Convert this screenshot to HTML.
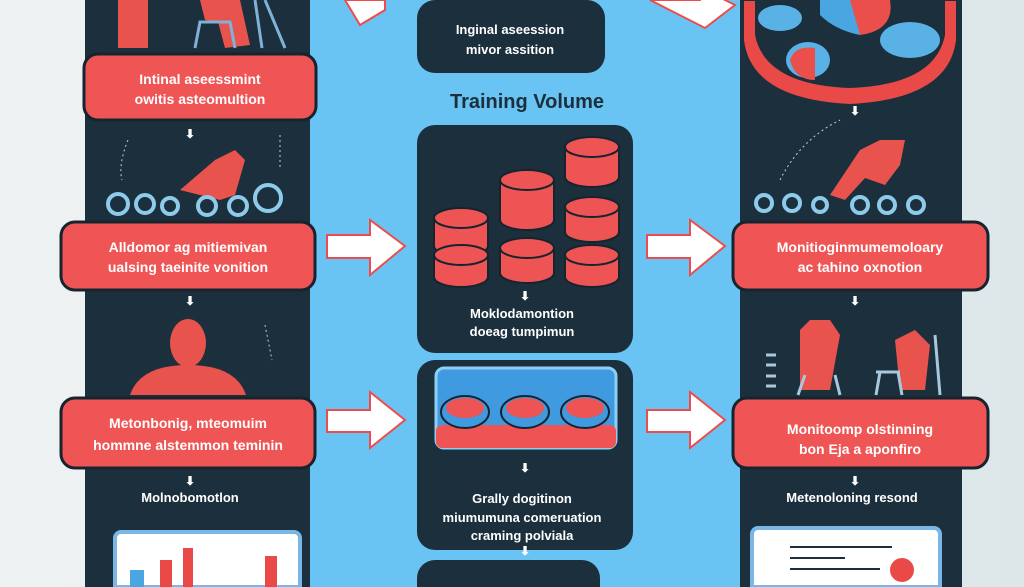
<!DOCTYPE html>
<html><head><meta charset="utf-8"><style>
body{margin:0;width:1024px;height:587px;overflow:hidden;background:#e6edf0;font-family:"Liberation Sans",sans-serif}
svg{position:absolute;left:0;top:0}
text{font-family:"Liberation Sans",sans-serif;font-weight:bold}
</style></head><body>
<svg width="1024" height="587" viewBox="0 0 1024 587">
<defs>
<linearGradient id="bg" x1="0" x2="1"><stop offset="0" stop-color="#eef2f3"/><stop offset="1" stop-color="#dde7ea"/></linearGradient>
</defs>
<rect width="1024" height="587" fill="url(#bg)"/>
<rect x="310" y="0" width="430" height="587" fill="#6ac4f3"/>
<rect x="85" y="0" width="225" height="587" fill="#1b2f3d"/>
<rect x="740" y="0" width="222" height="587" fill="#1b2f3d"/>
<rect x="417" y="0" width="188" height="73" rx="18" fill="#1b2f3d"/>
<rect x="417" y="125" width="216" height="228" rx="18" fill="#1b2f3d"/>
<rect x="417" y="360" width="216" height="190" rx="18" fill="#1b2f3d"/>
<path d="M417 587 V578 a18 18 0 0 1 18 -18 H582 a18 18 0 0 1 18 18 V587Z" fill="#1b2f3d"/>
<text x="510" y="34" fill="#fff" font-size="13" text-anchor="middle" font-weight="normal">Inginal aseession</text>
<text x="510" y="54" fill="#fff" font-size="13" text-anchor="middle" font-weight="normal">mivor assition</text>
<text x="527" y="108" fill="#1b2f3d" font-size="20" text-anchor="middle">Training Volume</text>
<path d="M385 0 L345 0 L360 25 L385 10Z" fill="#fff" stroke="#ee4c4c" stroke-width="2"/>
<path d="M650 0 L700 0 L705 -10 L735 5 L705 28Z" fill="#fff" stroke="#ee4c4c" stroke-width="2"/>
<g fill="#fff" stroke="#ee4c4c" stroke-width="2">
<path d="M327 235 L370 235 L370 220 L405 246 L370 275 L370 258 L327 258Z"/>
<path d="M647 235 L690 235 L690 220 L725 246 L690 275 L690 258 L647 258Z"/>
<path d="M327 410 L370 410 L370 392 L405 420 L370 448 L370 432 L327 432Z"/>
<path d="M647 410 L690 410 L690 392 L725 420 L690 448 L690 432 L647 432Z"/>
</g>
<g stroke="#162430" stroke-width="3" fill="#f05555">
<rect x="84" y="54" width="232" height="66" rx="14"/>
<rect x="61" y="222" width="254" height="68" rx="14"/>
<rect x="61" y="398" width="254" height="70" rx="14"/>
<rect x="733" y="222" width="255" height="68" rx="14"/>
<rect x="733" y="398" width="255" height="70" rx="14"/>
</g>
<g fill="#fff" font-size="14" text-anchor="middle">
<text x="200" y="84">Intinal aseessmint</text>
<text x="200" y="104">owitis asteomultion</text>
<text x="188" y="252">Alldomor ag mitiemivan</text>
<text x="188" y="272">ualsing taeinite vonition</text>
<text x="188" y="428">Metonbonig, mteomuim</text>
<text x="188" y="450">hommne alstemmon teminin</text>
<text x="860" y="252">Monitioginmumemoloary</text>
<text x="860" y="272">ac tahino oxnotion</text>
<text x="860" y="434">Monitoomp olstinning</text>
<text x="860" y="454">bon Eja a aponfiro</text>
</g>
<g fill="#fff" font-size="13" text-anchor="middle">
<text x="190" y="502">Molnobomotlon</text>
<text x="522" y="318">Moklodamontion</text>
<text x="522" y="336">doeag tumpimun</text>
<text x="522" y="503">Grally dogitinon</text>
<text x="522" y="522">miumumuna comeruation</text>
<text x="522" y="540">craming polviala</text>
<text x="852" y="502">Metenoloning resond</text>
</g>
<g fill="#fff" font-size="12" text-anchor="middle">
<text x="190" y="138">⬇</text><text x="190" y="305">⬇</text><text x="190" y="485">⬇</text>
<text x="525" y="300">⬇</text><text x="525" y="472">⬇</text><text x="525" y="555">⬇</text>
<text x="855" y="305">⬇</text><text x="855" y="485">⬇</text><text x="855" y="115">⬇</text>
</g>
<g fill="#e8534e">
<rect x="118" y="0" width="30" height="48"/>
<path d="M200 0 L240 0 L250 45 L225 48 L218 22 L205 20Z"/>
<path d="M180 190 L215 160 L235 150 L245 160 L235 195 L220 200 L200 195Z"/>
<ellipse cx="188" cy="343" rx="18" ry="24"/>
<path d="M130 395 Q140 365 188 365 Q236 365 246 395Z"/>
</g>
<g stroke="#7fb2d6" stroke-width="3" fill="none">
<path d="M195 48 L200 22 L230 22 L235 48"/><path d="M265 0 L285 48 M255 0 L262 48"/>
</g>
<g stroke="#8ecbea" stroke-width="4" fill="#1b2f3d">
<circle cx="118" cy="204" r="10"/><circle cx="145" cy="204" r="9"/><circle cx="170" cy="206" r="8"/><circle cx="207" cy="206" r="9"/><circle cx="238" cy="206" r="9"/><circle cx="268" cy="198" r="13"/>
<circle cx="764" cy="203" r="8"/><circle cx="792" cy="203" r="8"/><circle cx="820" cy="205" r="7"/><circle cx="860" cy="205" r="8"/><circle cx="887" cy="205" r="8"/><circle cx="916" cy="205" r="8"/>
</g>
<path d="M128 140 Q118 165 122 180 M280 135 L280 170 M265 325 L272 360" stroke="#ccc" stroke-dasharray="2 3" fill="none"/>
<path d="M780 180 Q800 140 840 120" stroke="#ccc" stroke-dasharray="2 3" fill="none"/>
<path d="M743 0 L957 0 L957 40 Q950 100 850 105 Q750 100 743 40Z" fill="#e94a48" stroke="#1b2f3d" stroke-width="2"/>
<path d="M755 0 L945 0 L945 35 Q935 85 850 88 Q765 85 755 35Z" fill="#1b2f3d"/>
<ellipse cx="780" cy="18" rx="22" ry="13" fill="#5ab1e6"/>
<ellipse cx="910" cy="40" rx="30" ry="18" fill="#5ab1e6"/>
<path d="M820 0 L870 0 L860 35 Q835 30 820 15Z" fill="#4aa6e0"/>
<path d="M850 0 L890 0 Q895 30 860 35Z" fill="#ea4f4c"/>
<ellipse cx="808" cy="60" rx="22" ry="18" fill="#5ab1e6"/>
<path d="M790 60 Q795 45 815 48 L815 80 Q795 80 790 60Z" fill="#ea4f4c"/>
<path d="M830 195 L860 150 L880 140 L905 140 L900 165 L885 185 L865 178 L845 200Z" fill="#e8534e"/>
<path d="M800 330 L810 320 L830 320 L840 335 L830 390 L800 390Z" fill="#e8534e"/>
<path d="M895 340 L915 330 L930 345 L925 390 L900 390Z" fill="#e8534e"/>
<g stroke="#a8c8de" stroke-width="3"><path d="M876 372 L900 372 M880 372 L876 395 M898 372 L902 395 M935 335 L940 395 M805 375 L798 395 M835 375 L840 395"/>
<path d="M766 355 L776 355 M766 365 L776 365 M766 376 L776 376 M766 386 L776 386"/></g>
<g fill="#ed5453" stroke="#162430" stroke-width="2">
<path d="M434 218 v28 a27 10 0 0 0 54 0 v-28"/><ellipse cx="461" cy="218" rx="27" ry="10"/>
<path d="M434 255 v22 a27 10 0 0 0 54 0 v-22"/><ellipse cx="461" cy="255" rx="27" ry="10"/>
<path d="M500 180 v40 a27 10 0 0 0 54 0 v-40"/><ellipse cx="527" cy="180" rx="27" ry="10"/>
<path d="M500 248 v25 a27 10 0 0 0 54 0 v-25"/><ellipse cx="527" cy="248" rx="27" ry="10"/>
<path d="M565 147 v30 a27 10 0 0 0 54 0 v-30"/><ellipse cx="592" cy="147" rx="27" ry="10"/>
<path d="M565 207 v25 a27 10 0 0 0 54 0 v-25"/><ellipse cx="592" cy="207" rx="27" ry="10"/>
<path d="M565 255 v22 a27 10 0 0 0 54 0 v-22"/><ellipse cx="592" cy="255" rx="27" ry="10"/>
</g>
<rect x="436" y="368" width="180" height="80" rx="8" fill="#3f9ae0" stroke="#8ed0f5" stroke-width="3"/>
<rect x="436" y="425" width="180" height="23" rx="6" fill="#ed5453"/>
<g fill="#3f9ae0" stroke="#162430" stroke-width="2">
<ellipse cx="465" cy="412" rx="24" ry="16"/><ellipse cx="525" cy="412" rx="24" ry="16"/><ellipse cx="585" cy="412" rx="24" ry="16"/></g>
<g fill="#ed5453"><ellipse cx="465" cy="408" rx="19" ry="10"/><ellipse cx="525" cy="408" rx="19" ry="10"/><ellipse cx="585" cy="408" rx="19" ry="10"/></g>
<path d="M115 587 V538 a6 6 0 0 1 6 -6 H294 a6 6 0 0 1 6 6 V587Z" fill="#fff" stroke="#7ab7e6" stroke-width="4"/>
<rect x="130" y="570" width="14" height="17" fill="#4aa6e0"/><rect x="160" y="560" width="12" height="27" fill="#e94a48"/><rect x="183" y="548" width="10" height="39" fill="#e94a48"/><rect x="265" y="556" width="12" height="31" fill="#e94a48"/>
<path d="M752 587 V534 a6 6 0 0 1 6 -6 H934 a6 6 0 0 1 6 6 V587Z" fill="#fff" stroke="#7ab7e6" stroke-width="4"/>
<path d="M790 547 L892 547 M790 558 L845 558 M790 569 L880 569" stroke="#1b2f3d" stroke-width="2"/>
<circle cx="902" cy="570" r="12" fill="#e94a48"/>
</svg>
</body></html>
